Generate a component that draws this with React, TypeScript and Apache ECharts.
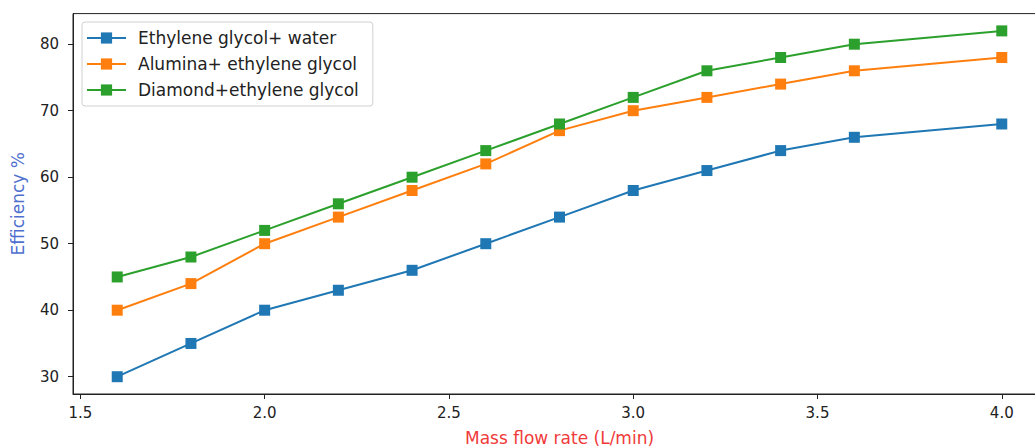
import React, { useEffect, useRef } from "react";
import * as echarts from "echarts";

const flowRates = [1.6, 1.8, 2.0, 2.2, 2.4, 2.6, 2.8, 3.0, 3.2, 3.4, 3.6, 4.0];
const waterEff = [30, 35, 40, 43, 46, 50, 54, 58, 61, 64, 66, 68];
const aluminaEff = [40, 44, 50, 54, 58, 62, 67, 70, 72, 74, 76, 78];
const diamondEff = [45, 48, 52, 56, 60, 64, 68, 72, 76, 78, 80, 82];
const xTicks = [1.5, 2.0, 2.5, 3.0, 3.5, 4.0];
const yTicks = [30, 40, 50, 60, 70, 80];
const seriesNames = [
  "Ethylene glycol+ water",
  "Alumina+ ethylene glycol",
  "Diamond+ethylene glycol",
];
const colors = ["#1f77b4", "#ff7f0e", "#2ca02c"];

export default function App() {
  const ref = useRef<HTMLDivElement>(null);
  useEffect(() => {
    if (!ref.current) return;
    const chart = echarts.init(ref.current, undefined, { renderer: "svg" });
    const font = "DejaVu Sans";
    const mk = (name: string, vals: number[], color: string) => ({
      name,
      type: "line",
      data: flowRates.map((x, i) => [x, vals[i]]),
      symbol: "rect",
      symbolSize: 11,
      showSymbol: true,
      lineStyle: { color, width: 2 },
      itemStyle: { color },
      emphasis: { disabled: true },
    });
    chart.setOption({
      animation: false,
      grid: {
        left: 73,
        top: 13.6,
        right: -11,
        bottom: 54,
        outerBoundsMode: "none",
        containLabel: false,
        show: true,
        borderColor: "#222",
        borderWidth: 1,
        backgroundColor: "transparent",
      },
      legend: {
        orient: "vertical",
        left: 82,
        top: 22,
        padding: [6, 14, 6, 4],
        itemGap: 6,
        itemWidth: 39,
        itemHeight: 14,
        borderColor: "#d0d0d0",
        borderWidth: 1,
        borderRadius: 3,
        backgroundColor: "#fff",
        textStyle: {
          fontFamily: font,
          fontSize: 17,
          lineHeight: 20,
          color: "#222",
          padding: [0, 0, 0, 7],
        },
        data: seriesNames,
      },
      xAxis: {
        type: "value",
        min: 1.48,
        max: 4.12,
        name: "Mass flow rate (L/min)",
        nameLocation: "middle",
        nameGap: 35,
        nameTextStyle: { fontFamily: font, fontSize: 17, color: "#f03a3a" },
        splitLine: { show: false },
        axisLine: { show: true, onZero: false, lineStyle: { color: "#222" } },
        axisTick: { show: true, length: 5, customValues: xTicks, lineStyle: { color: "#222" } },
        axisLabel: {
          customValues: xTicks,
          formatter: (v: number) => v.toFixed(1),
          fontFamily: font,
          fontSize: 15,
          color: "#222",
          margin: 11,
        },
      },
      yAxis: {
        type: "value",
        min: 27.4,
        max: 84.6,
        name: "Efficiency %",
        nameLocation: "middle",
        nameGap: 47,
        nameTextStyle: { fontFamily: font, fontSize: 17, color: "#4f6fcf" },
        splitLine: { show: false },
        axisLine: { show: true, onZero: false, lineStyle: { color: "#222" } },
        axisTick: { show: true, length: 5, customValues: yTicks, lineStyle: { color: "#222" } },
        axisLabel: {
          customValues: yTicks,
          fontFamily: font,
          fontSize: 15,
          color: "#222",
          margin: 14,
        },
      },
      series: [
        mk(seriesNames[0], waterEff, colors[0]),
        mk(seriesNames[1], aluminaEff, colors[1]),
        mk(seriesNames[2], diamondEff, colors[2]),
      ],
    });
    return () => chart.dispose();
  }, []);
  return (
    <div
      ref={ref}
      style={{ position: "fixed", left: 0, top: 0, width: 1035, height: 448, background: "#fff" }}
    />
  );
}
